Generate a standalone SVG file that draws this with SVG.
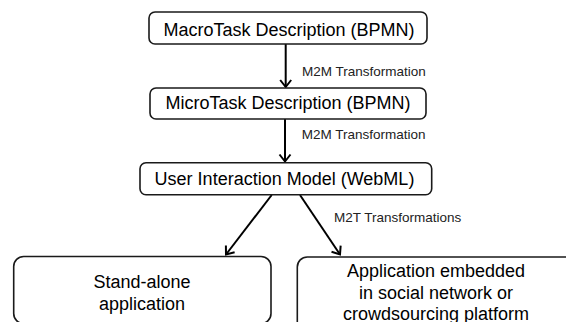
<svg xmlns="http://www.w3.org/2000/svg" width="566" height="322" viewBox="0 0 566 322">
<style>
.box{fill:#fff;stroke:#1a1a1a;stroke-width:1.6}
.t{font-family:"Liberation Sans",Arial,sans-serif;font-size:18px;fill:#000;text-anchor:middle}
.lbl{font-family:"Liberation Sans",Arial,sans-serif;font-size:13.5px;fill:#222}
.edge{stroke:#000;stroke-width:2;fill:none;marker-end:url(#ah)}
</style>
<defs>
<marker id="ah" markerUnits="userSpaceOnUse" markerWidth="14" markerHeight="14" viewBox="0 0 14 14" refX="12" refY="7" orient="auto">
<path d="M5,1.5 L12,7 L5,12.5" fill="none" stroke="#000" stroke-width="2"/>
</marker>
</defs>
<rect width="566" height="322" fill="#fff"/>
<g id="connectors">
<line class="edge" x1="285.7" y1="44" x2="285.7" y2="87"/>
<line class="edge" x1="285" y1="119" x2="285" y2="161.5"/>
<line class="edge" x1="271.7" y1="195" x2="226" y2="254.5"/>
<line class="edge" x1="300" y1="195" x2="340" y2="254.5"/>
<text class="lbl" x="302" y="76">M2M Transformation</text>
<text class="lbl" x="301.7" y="138.5">M2M Transformation</text>
<text class="lbl" x="334" y="222">M2T Transformations</text>
</g>
<g id="macrotask">
<rect class="box" x="149" y="12" width="278" height="32" rx="6"/>
<text class="t" x="289" y="36">MacroTask Description (BPMN)</text>
</g>
<g id="microtask">
<rect class="box" x="150" y="88" width="276" height="31" rx="6"/>
<text class="t" x="288" y="109">MicroTask Description (BPMN)</text>
</g>
<g id="userinteraction">
<rect class="box" x="140" y="162.7" width="291.7" height="32" rx="6"/>
<text class="t" x="284.5" y="185">User Interaction Model (WebML)</text>
</g>
<g id="standalone">
<rect class="box" x="13.7" y="256.5" width="257.3" height="67" rx="10"/>
<text class="t" x="142" y="288.3">Stand-alone</text>
<text class="t" x="142" y="310">application</text>
</g>
<g id="embedded">
<rect class="box" x="297.3" y="257" width="290" height="80" rx="10"/>
<text class="t" x="436" y="277">Application embedded</text>
<text class="t" x="436" y="298.5">in social network or</text>
<text class="t" x="436" y="320">crowdsourcing platform</text>
</g>
</svg>
